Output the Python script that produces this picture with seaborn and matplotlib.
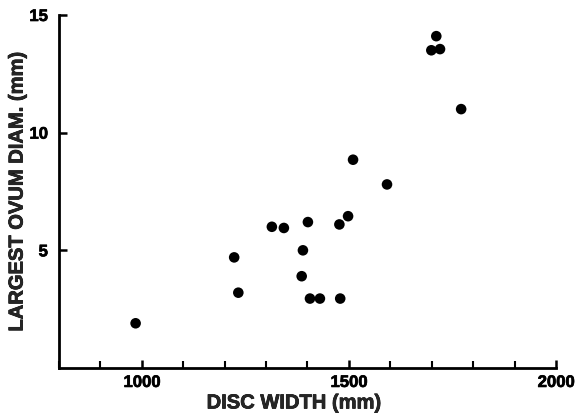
import pandas as pd
import matplotlib
matplotlib.use("Agg")
import matplotlib.pyplot as plt
import matplotlib.patheffects as pe
import seaborn as sns
from matplotlib.ticker import MultipleLocator

# Values
disc_width = [985, 1223, 1233, 1314, 1343, 1386, 1389, 1401, 1406, 1430,
              1477, 1479, 1498, 1510, 1592, 1699, 1711, 1720, 1771]
ovum_diam = [1.9, 4.7, 3.2, 6.0, 5.95, 3.9, 5.0, 6.2, 2.95, 2.95,
             6.1, 2.95, 6.45, 8.85, 7.8, 13.5, 14.1, 13.55, 11.0]

data = pd.DataFrame({"DISC WIDTH (mm)": disc_width,
                     "LARGEST OVUM DIAM. (mm)": ovum_diam})

sns.set_style("ticks")
plt.rcParams['font.family'] = ['Liberation Sans', 'DejaVu Sans']

fig = plt.figure(figsize=(5.8, 4.16), dpi=100)
ax = fig.add_axes([0.1017, 0.1154, 0.8569, 0.8486])

sns.scatterplot(data=data, x="DISC WIDTH (mm)", y="LARGEST OVUM DIAM. (mm)",
                color="black", edgecolor="none", s=58, ax=ax)

ax.set_xlim(800, 2000)
ax.set_ylim(0, 15)
ax.set_xticks([1000, 1500, 2000])
ax.xaxis.set_minor_locator(MultipleLocator(100))
ax.set_yticks([5, 10, 15])

sns.despine(ax=ax)
for sp in ["left", "bottom"]:
    ax.spines[sp].set_linewidth(2)
    ax.spines[sp].set_color("black")

# slightly heavier text, like the printed original
thick = [pe.withStroke(linewidth=0.5, foreground="black")]

ax.tick_params(axis="both", which="major", direction="in", length=6, width=1.8,
               labelsize=12, colors="black")
ax.tick_params(axis="x", which="major", pad=5)
ax.tick_params(axis="y", which="major", pad=8)
ax.tick_params(axis="x", which="minor", direction="in", length=5, width=1.5,
               colors="black")
for lab in ax.get_xticklabels() + ax.get_yticklabels():
    lab.set_fontweight("bold")
    lab.set_path_effects(thick)

ax.set_xlabel("DISC WIDTH (mm)", fontsize=14.5, fontweight="bold", path_effects=thick)
ax.set_ylabel("LARGEST OVUM DIAM. (mm)", fontsize=14.5, fontweight="bold",
              labelpad=2, path_effects=thick)
ax.xaxis.set_label_coords(0.473, -0.072)

fig.savefig("out.png", dpi=100)
